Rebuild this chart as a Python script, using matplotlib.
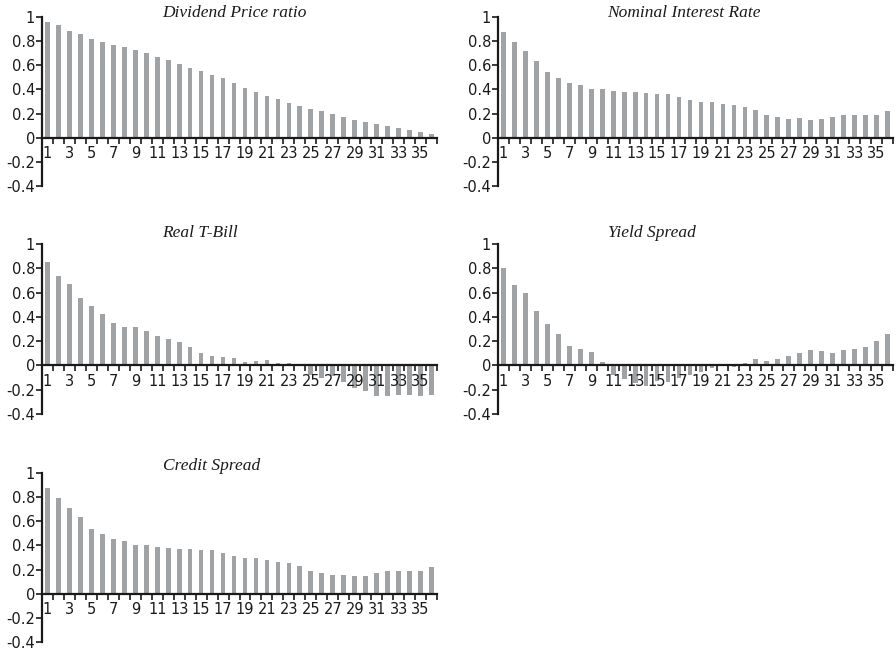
import matplotlib
matplotlib.use("Agg")
import matplotlib.pyplot as plt
import numpy as np

lags = list(range(1, 37))

dividend_price = [0.96, 0.93, 0.886, 0.856, 0.82, 0.795, 0.77, 0.753, 0.729, 0.704,
                  0.67, 0.645, 0.612, 0.579, 0.554, 0.52, 0.496, 0.454, 0.413, 0.38,
                  0.346, 0.32, 0.288, 0.263, 0.238, 0.22, 0.197, 0.17, 0.147, 0.13,
                  0.114, 0.097, 0.08, 0.064, 0.047, 0.03]

nominal_rate = [0.878, 0.795, 0.72, 0.637, 0.546, 0.496, 0.454, 0.438, 0.404, 0.404,
                0.388, 0.38, 0.38, 0.371, 0.363, 0.363, 0.338, 0.313, 0.296, 0.296,
                0.28, 0.271, 0.255, 0.23, 0.188, 0.172, 0.155, 0.163, 0.147, 0.155,
                0.172, 0.188, 0.188, 0.188, 0.188, 0.222]

real_tbill = [0.854, 0.738, 0.671, 0.555, 0.489, 0.423, 0.348, 0.315, 0.315, 0.282,
              0.24, 0.215, 0.19, 0.149, 0.099, 0.075, 0.066, 0.058, 0.025, 0.033,
              0.041, 0.017, 0.017, 0.004, -0.075, -0.1, -0.09, -0.133, -0.182, -0.207,
              -0.248, -0.248, -0.24, -0.24, -0.248, -0.24]

yield_spread = [0.804, 0.663, 0.597, 0.448, 0.34, 0.257, 0.157, 0.133, 0.108, 0.025,
                -0.077, -0.11, -0.146, -0.168, -0.13, -0.138, -0.105, -0.077, -0.055, -0.022,
                -0.005, -0.01, 0.017, 0.05, 0.033, 0.05, 0.075, 0.1, 0.124, 0.116,
                0.1, 0.124, 0.133, 0.149, 0.199, 0.257]

credit_spread = [0.878, 0.796, 0.713, 0.638, 0.539, 0.497, 0.456, 0.439, 0.406, 0.406,
                 0.39, 0.381, 0.373, 0.373, 0.365, 0.365, 0.34, 0.315, 0.298, 0.298,
                 0.282, 0.265, 0.257, 0.232, 0.19, 0.174, 0.157, 0.157, 0.149, 0.149,
                 0.174, 0.19, 0.19, 0.19, 0.19, 0.224]

titles = ["Dividend Price ratio", "Nominal Interest Rate", "Real T-Bill",
          "Yield Spread", "Credit Spread"]
series = [dividend_price, nominal_rate, real_tbill, yield_spread, credit_spread]
y_ticks = [-0.4, -0.2, 0, 0.2, 0.4, 0.6, 0.8, 1]
y_tick_labels = ["-0.4", "-0.2", "0", "0.2", "0.4", "0.6", "0.8", "1"]

W, H = 896, 653
BAR_COLOR = "#a0a3a5"

# axes boxes in pixels: (left, top, right, bottom) and title centre (x, y)
boxes = [(42, 17, 437, 186), (498, 17, 893, 186),
         (42, 244, 437, 414), (498, 244, 893, 414),
         (42, 473, 437, 642)]
title_pos = [(234, 13), (684, 13), (200, 233), (652, 233), (212, 466)]

fig = plt.figure(figsize=(W / 100, H / 100), dpi=100)

for vals, title, (l, t, r, b), (tx, ty) in zip(series, titles, boxes, title_pos):
    ax = fig.add_axes([l / W, 1 - b / H, (r - l) / W, (b - t) / H])
    ax.bar(lags, vals, width=0.43, color=BAR_COLOR, zorder=1)
    ax.set_xlim(0.5, 36.5)
    ax.set_ylim(-0.4, 1.0)

    for side in ("top", "right"):
        ax.spines[side].set_visible(False)
    ax.spines["bottom"].set_position(("data", 0))
    for side in ("left", "bottom"):
        ax.spines[side].set_linewidth(1.6)
        ax.spines[side].set_color("#1a1a1a")
        ax.spines[side].set_zorder(3)

    ax.set_yticks(y_ticks)
    ax.set_yticklabels(y_tick_labels)
    ax.tick_params(axis="y", direction="out", length=4, width=1.2, pad=1,
                   labelsize=10.5, colors="#1a1a1a")

    ax.set_xticks(lags[::2])
    ax.set_xticklabels([str(v) for v in lags[::2]])
    ax.set_xticks(np.arange(0.5, 37, 1), minor=True)
    ax.tick_params(axis="x", which="major", length=0, pad=6, labelsize=10.5,
                   colors="#1a1a1a")
    ax.tick_params(axis="x", which="minor", direction="out", length=4, width=1.2,
                   color="#1a1a1a")
    for lab in ax.get_xticklabels():
        lab.set_zorder(4)

    fig.text(tx / W, 1 - ty / H, title, ha="center", va="center",
             family="Liberation Serif", style="italic", fontsize=12.5,
             color="#1a1a1a")

fig.savefig("out.png", dpi=100)
